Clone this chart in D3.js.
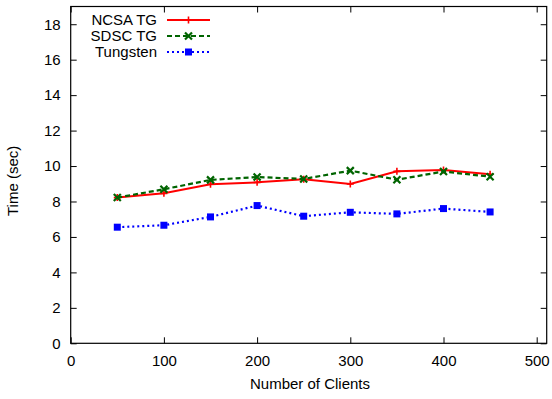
<!DOCTYPE html>
<html><head><meta charset="utf-8">
<script src="https://cdn.jsdelivr.net/npm/d3@7"></script>
<style>body{margin:0;background:#fff}svg{display:block}text{font-family:"Liberation Sans",Arial,sans-serif}</style>
</head><body><svg id="c" width="552" height="399"></svg>
<script>
const clients = [50,100,150,200,250,300,350,400,450];
const ncsa = [8.22,8.46,8.97,9.08,9.25,8.99,9.70,9.78,9.54];
const sdsc = [8.22,8.69,9.22,9.38,9.27,9.74,9.23,9.69,9.40];
const tungsten = [6.55,6.66,7.13,7.77,7.17,7.39,7.30,7.60,7.41];
const seriesNames = ["NCSA TG","SDSC TG","Tungsten"];
const xTicks = [0,100,200,300,400,500];
const yTicks = [0,2,4,6,8,10,12,14,16,18];

const svg = d3.select("#c");
const L=70.7, R=546.7, T=6.5, B=343.3;
const x = d3.scaleLinear().domain([0,(R-L)/0.932]).range([L,R]);
const y = d3.scaleLinear().domain([0,19]).range([B,T]);
const fs = 15;

svg.append("rect").attr("x",L).attr("y",T).attr("width",R-L).attr("height",B-T)
  .attr("fill","none").attr("stroke","#000").attr("stroke-width",1.2);

const gx = svg.append("g").attr("transform",`translate(0,${B})`)
  .call(d3.axisBottom(x).tickValues(xTicks).tickSizeInner(-6).tickSizeOuter(0).tickPadding(12));
const gxt = svg.append("g").attr("transform",`translate(0,${T})`)
  .call(d3.axisTop(x).tickValues(xTicks).tickSizeInner(-6).tickSizeOuter(0).tickFormat(""));
const gy = svg.append("g").attr("transform",`translate(${L},0)`)
  .call(d3.axisLeft(y).tickValues(yTicks).tickSizeInner(-6).tickSizeOuter(0).tickPadding(10));
const gyr = svg.append("g").attr("transform",`translate(${R},0)`)
  .call(d3.axisRight(y).tickValues(yTicks).tickSizeInner(-6).tickSizeOuter(0).tickFormat(""));
[gx,gxt,gy,gyr].forEach(g=>{
  g.select(".domain").remove();
  g.selectAll("line").attr("stroke","#000").attr("stroke-width",1);
  g.selectAll("text").attr("font-size",fs).attr("fill","#000").attr("font-family","Liberation Sans, Arial, sans-serif");
});

svg.append("text").attr("x",310).attr("y",389).attr("text-anchor","middle").attr("font-size",fs).text("Number of Clients");
svg.append("text").attr("transform",`translate(18,${(T+B)/2+6}) rotate(-90)`).attr("text-anchor","middle").attr("font-size",fs).text("Time (sec)");

const data = [ncsa,sdsc,tungsten];
const styles = [
  {color:"#ff0000", dash:null, width:2, marker:"plus"},
  {color:"#006400", dash:"5,3", width:2.2, marker:"cross"},
  {color:"#0000ff", dash:"2,3", width:2.2, marker:"square"}
];
const line = d3.line().x((d,i)=>x(clients[i])).y(d=>y(d));

function marker(g, cx, cy, s){
  if(s.marker==="plus"){
    g.append("path").attr("d",`M${cx-3.5},${cy}H${cx+3.5}M${cx},${cy-3.5}V${cy+3.5}`).attr("stroke",s.color).attr("stroke-width",1.6);
  } else if(s.marker==="cross"){
    g.append("path").attr("d",`M${cx-3.5},${cy-3.5}L${cx+3.5},${cy+3.5}M${cx-3.5},${cy+3.5}L${cx+3.5},${cy-3.5}`).attr("stroke",s.color).attr("stroke-width",2.2);
  } else {
    g.append("rect").attr("x",cx-3.5).attr("y",cy-3.5).attr("width",7).attr("height",7).attr("fill",s.color);
  }
}

data.forEach((vals,k)=>{
  const s = styles[k];
  const g = svg.append("g");
  g.append("path").datum(vals).attr("d",line).attr("fill","none").attr("stroke",s.color)
    .attr("stroke-width",s.width).attr("stroke-dasharray",s.dash);
  vals.forEach((v,i)=>marker(g,x(clients[i]),y(v),s));
});

const legY = [20,36,52];
seriesNames.forEach((n,k)=>{
  const s = styles[k];
  const g = svg.append("g");
  g.append("text").attr("x",157).attr("y",legY[k]+5).attr("text-anchor","end").attr("font-size",fs).text(n);
  g.append("line").attr("x1",167).attr("x2",210).attr("y1",legY[k]).attr("y2",legY[k])
    .attr("stroke",s.color).attr("stroke-width",s.width).attr("stroke-dasharray",s.dash);
  marker(g,188.5,legY[k],s);
});
</script></body></html>
